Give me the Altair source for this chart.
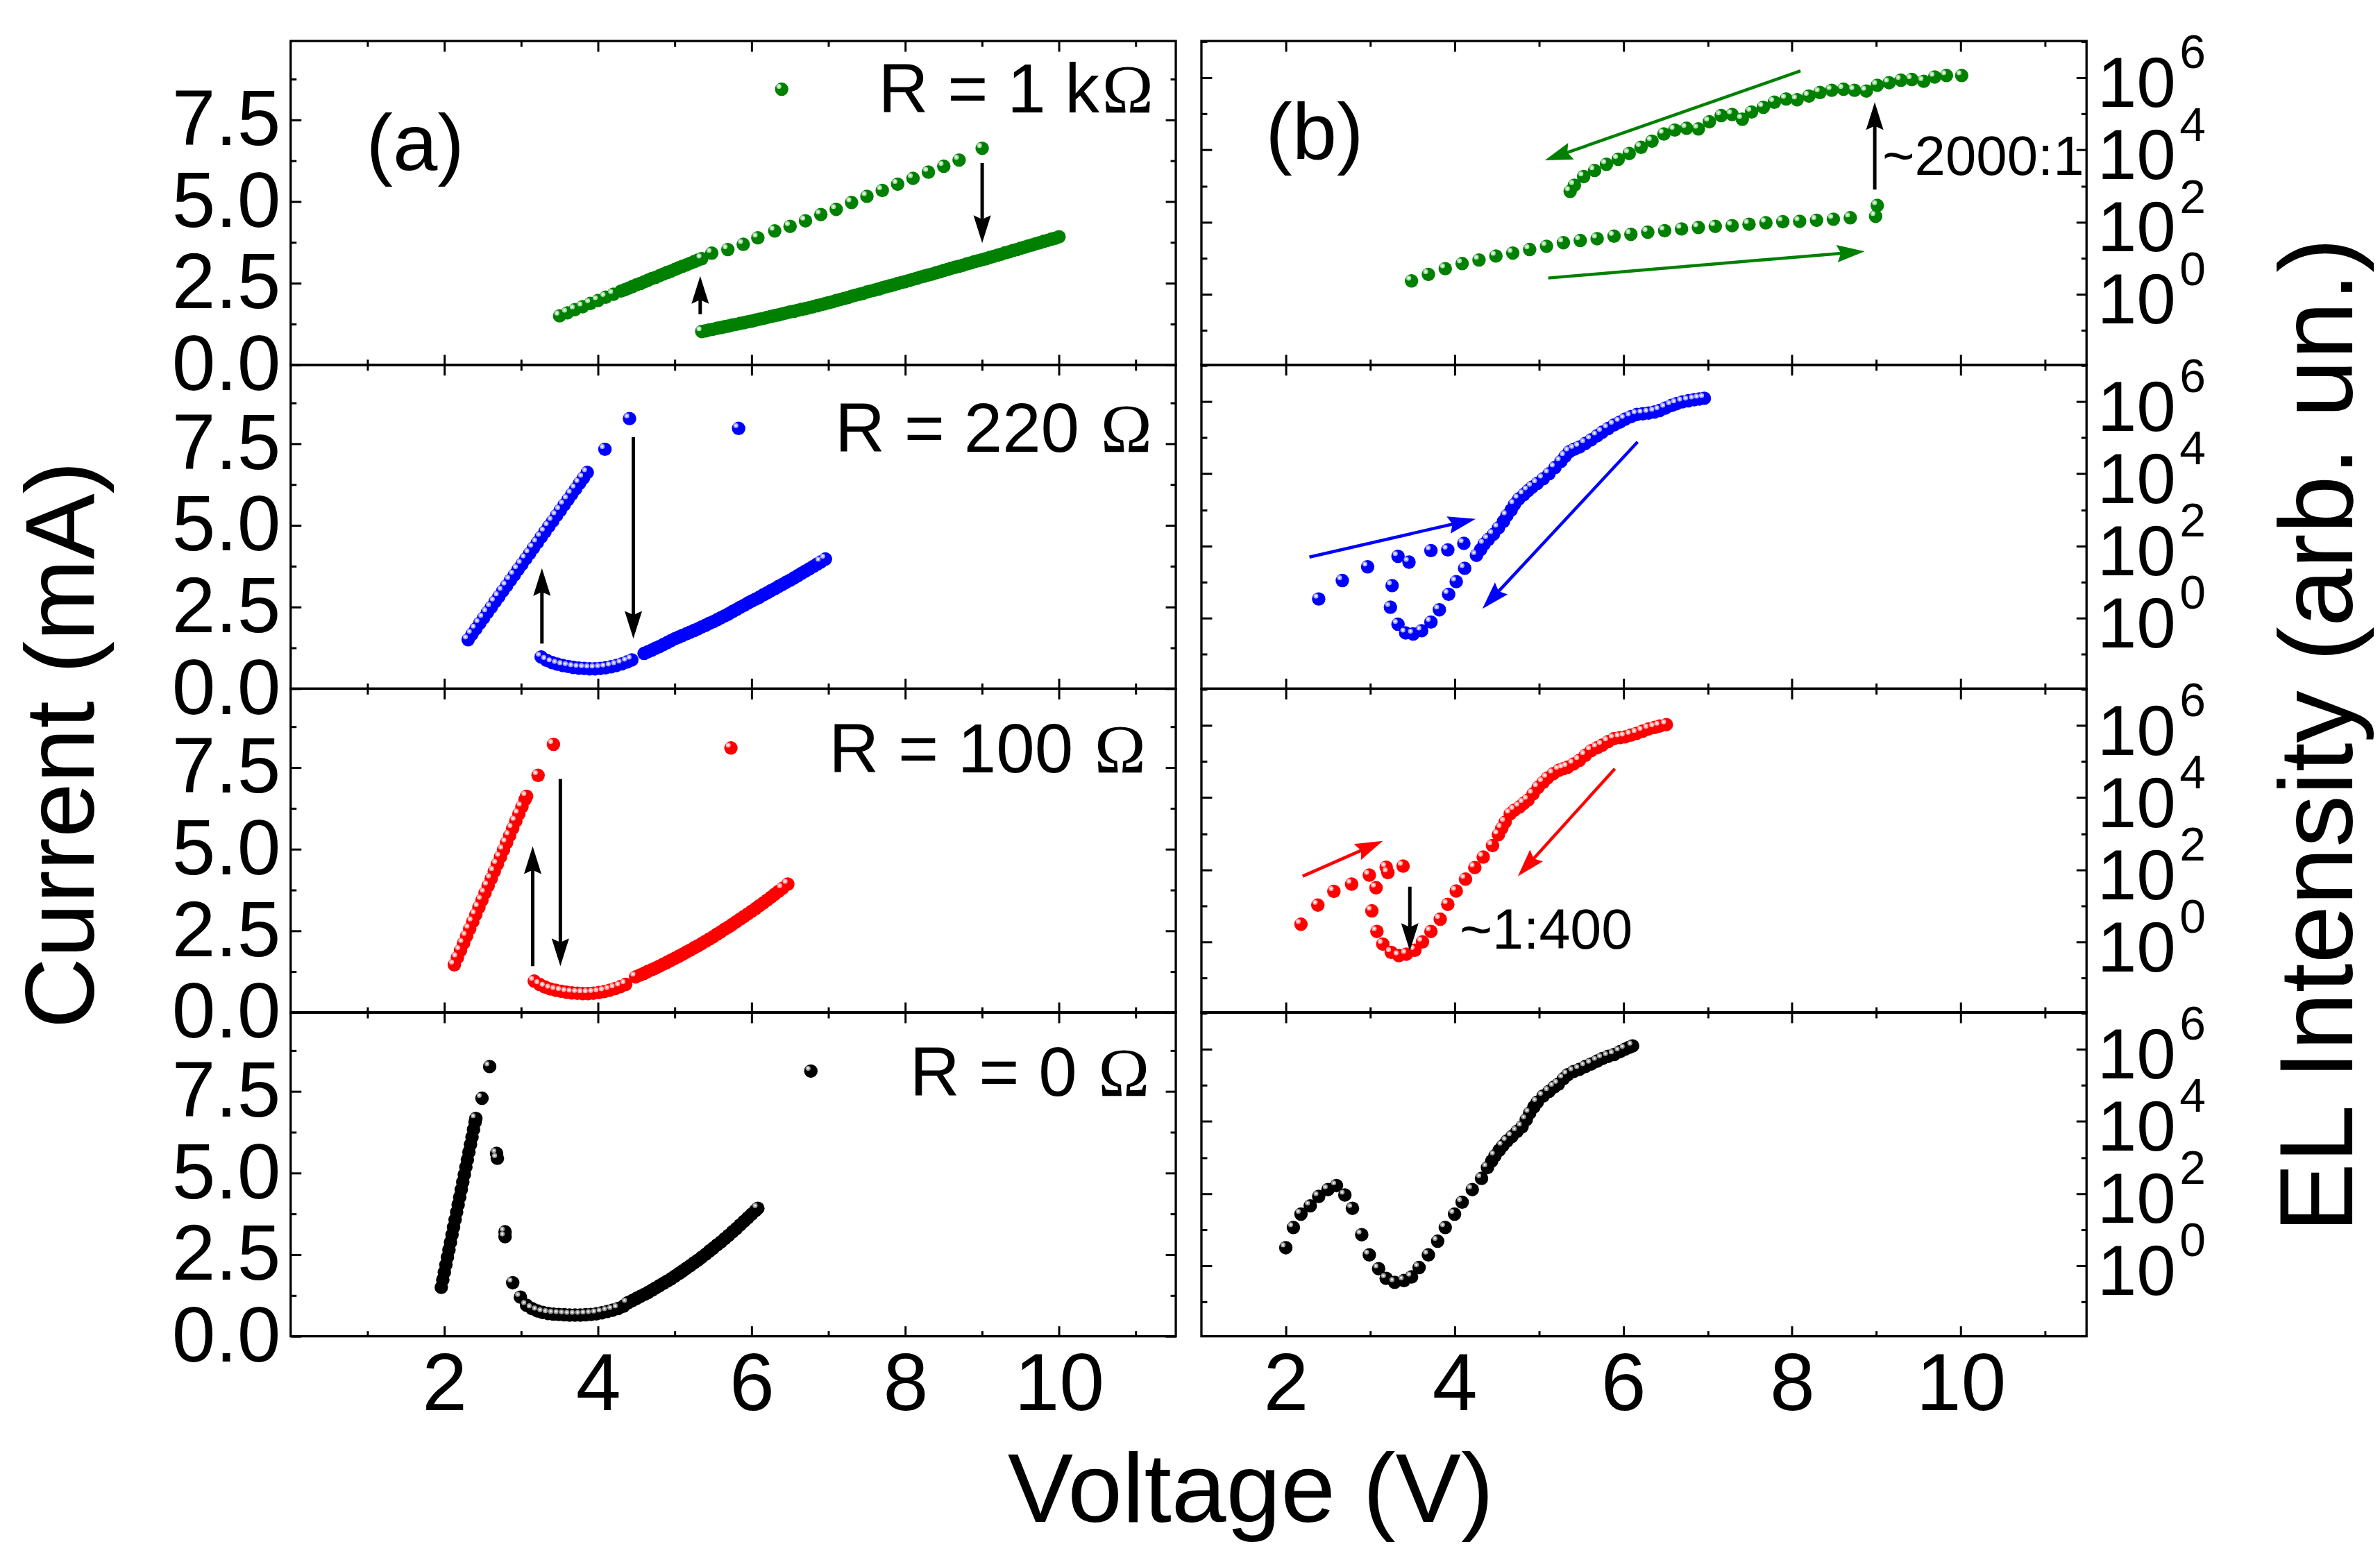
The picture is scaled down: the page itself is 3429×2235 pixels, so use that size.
import math
import altair as alt
import pandas as pd

FONT = "Liberation Sans"
SERIF = "Liberation Serif"

# ---------------- layout of one panel ----------------
W, H = 1279, 468
XL_DOM = [0.0, 11.52]      # voltage, left column
XR_DOM = [1.0, 11.49]      # voltage, right column
YL_DOM = [0.0, 9.915]      # current (mA)
YR_LOG = [-1.955, 7.016]   # log10 EL intensity

X_MAJOR = [2, 4, 6, 8, 10]
XL_MINOR = [1, 3, 5, 7, 9, 11]
XR_MINOR = [3, 5, 7, 9, 11]
YL_MAJOR = [0.0, 2.5, 5.0, 7.5]
YL_MINOR = [1.25, 3.75, 6.25, 8.75]
YR_MAJOR = [1, 1e2, 1e4, 1e6]
YR_MINOR = [1e-1, 1e1, 1e3, 1e5, 1e7]

GREEN, BLUE, RED, BLACK = "#008000", "#0000ff", "#ff0000", "#000000"
HL = {GREEN: "#a8dca8", BLUE: "#a8a8ff", RED: "#ffa8a8", BLACK: "#9c9c9c"}

# ---------------- (a) current, R = 1 kOhm ----------------
a1_up_v = [3.5, 3.6, 3.7, 3.8, 3.9, 4.0, 4.1, 4.2, 4.30, 4.35, 4.40, 4.45, 4.50, 4.55, 4.60, 4.65,
           4.70, 4.75, 4.80, 4.85, 4.90, 4.95, 5.00, 5.05, 5.10, 5.15, 5.20, 5.25, 5.30, 5.35]
a1_up_i = [1.50, 1.59, 1.69, 1.78, 1.88, 1.97, 2.07, 2.16, 2.26, 2.30, 2.35, 2.40, 2.45, 2.49, 2.54, 2.59,
           2.64, 2.68, 2.73, 2.78, 2.83, 2.87, 2.92, 2.97, 3.02, 3.06, 3.11, 3.16, 3.21, 3.25]
a1_hi_v = [5.48, 5.69, 5.89, 6.08, 6.30, 6.50, 6.70, 6.90, 7.10, 7.30, 7.50, 7.70, 7.90, 8.10, 8.30, 8.50, 8.70, 9.00]
a1_hi_i = [3.42, 3.53, 3.69, 3.89, 4.10, 4.24, 4.41, 4.60, 4.76, 4.97, 5.16, 5.34, 5.53, 5.71, 5.90, 6.08, 6.27, 6.63]
a1_ret_v = [10.00, 9.95, 9.90, 9.85, 9.80, 9.75, 9.70, 9.65, 9.60, 9.55, 9.50, 9.45, 9.40, 9.35, 9.30, 9.25,
            9.20, 9.15, 9.10, 9.05, 9.00, 8.95, 8.90, 8.85, 8.80, 8.75, 8.70, 8.65, 8.60, 8.55, 8.50, 8.45,
            8.40, 8.35, 8.30, 8.25, 8.20, 8.15, 8.10, 8.05, 8.00, 7.95, 7.90, 7.85, 7.80, 7.75, 7.70, 7.65,
            7.60, 7.55, 7.50, 7.45, 7.40, 7.35, 7.30, 7.25, 7.20, 7.15, 7.10, 7.05, 7.00, 6.95, 6.90, 6.85,
            6.80, 6.75, 6.70, 6.65, 6.60, 6.55, 6.50, 6.45, 6.40, 6.35, 6.30, 6.25, 6.20, 6.15, 6.10, 6.05,
            6.00, 5.95, 5.90, 5.85, 5.80, 5.75, 5.70, 5.65, 5.60, 5.55, 5.50, 5.45, 5.40, 5.35]
a1_ret_i = [3.92, 3.88, 3.85, 3.81, 3.78, 3.74, 3.71, 3.67, 3.64, 3.60, 3.57, 3.53, 3.50, 3.46, 3.43, 3.39,
            3.36, 3.32, 3.29, 3.25, 3.22, 3.19, 3.16, 3.12, 3.09, 3.05, 3.02, 2.99, 2.96, 2.92, 2.89, 2.85,
            2.82, 2.78, 2.75, 2.72, 2.69, 2.65, 2.62, 2.58, 2.55, 2.52, 2.49, 2.45, 2.42, 2.39, 2.36, 2.32,
            2.29, 2.26, 2.23, 2.19, 2.16, 2.13, 2.10, 2.06, 2.03, 2.00, 1.97, 1.93, 1.90, 1.87, 1.84, 1.81,
            1.78, 1.75, 1.72, 1.70, 1.67, 1.64, 1.62, 1.59, 1.56, 1.53, 1.51, 1.48, 1.45, 1.42, 1.40, 1.37,
            1.34, 1.32, 1.29, 1.27, 1.24, 1.22, 1.19, 1.17, 1.14, 1.12, 1.09, 1.07, 1.04, 1.02]

# ---------------- (a) current, R = 220 Ohm ----------------
a2_up_v = [2.31, 2.36, 2.41, 2.46, 2.51, 2.56, 2.61, 2.66, 2.71, 2.76, 2.81, 2.86, 2.91, 2.96, 3.01, 3.06,
           3.11, 3.16, 3.21, 3.26, 3.31, 3.36, 3.41, 3.46, 3.51, 3.56, 3.61, 3.66, 3.71, 3.76, 3.81, 3.86]
a2_up_i = [1.50, 1.67, 1.83, 2.00, 2.16, 2.33, 2.49, 2.66, 2.82, 2.99, 3.15, 3.32, 3.48, 3.65, 3.81, 3.98,
           4.14, 4.31, 4.47, 4.64, 4.80, 4.97, 5.13, 5.30, 5.46, 5.63, 5.79, 5.96, 6.12, 6.29, 6.45, 6.62]
a2_hi_v = [4.09, 4.41]
a2_hi_i = [7.33, 8.27]
a2_dip_v = [3.26, 3.33, 3.40, 3.47, 3.54, 3.61, 3.68, 3.75, 3.82, 3.89, 3.96, 4.03, 4.10, 4.17, 4.24, 4.31, 4.38, 4.44]
a2_dip_i = [0.97, 0.87, 0.80, 0.75, 0.71, 0.68, 0.65, 0.63, 0.62, 0.61, 0.61, 0.62, 0.64, 0.67, 0.71, 0.76, 0.82, 0.88]
a2_rise_v = [4.60, 4.65, 4.70, 4.75, 4.80, 4.85, 4.90, 4.95, 5.00, 5.05, 5.10, 5.15, 5.20, 5.25, 5.30, 5.35,
             5.40, 5.45, 5.50, 5.55, 5.60, 5.65, 5.70, 5.75, 5.80, 5.85, 5.90, 5.95, 6.00, 6.05, 6.10, 6.15,
             6.20, 6.25, 6.30, 6.35, 6.40, 6.45, 6.50, 6.55, 6.60, 6.65, 6.70, 6.75, 6.80, 6.85, 6.90, 6.96]
a2_rise_i = [1.08, 1.13, 1.18, 1.24, 1.29, 1.35, 1.41, 1.47, 1.53, 1.58, 1.63, 1.68, 1.73, 1.78, 1.83, 1.89,
             1.94, 2.00, 2.05, 2.11, 2.17, 2.23, 2.29, 2.36, 2.42, 2.49, 2.55, 2.62, 2.68, 2.74, 2.80, 2.87,
             2.93, 3.00, 3.06, 3.13, 3.19, 3.26, 3.32, 3.39, 3.46, 3.53, 3.60, 3.67, 3.74, 3.81, 3.88, 3.97]

# ---------------- (a) current, R = 100 Ohm ----------------
a3_up_v = [2.13, 2.17, 2.21, 2.25, 2.29, 2.33, 2.37, 2.41, 2.45, 2.49, 2.53, 2.57, 2.61, 2.65, 2.69, 2.73,
           2.77, 2.81, 2.85, 2.89, 2.93, 2.97, 3.01, 3.05, 3.07]
a3_up_i = [1.46, 1.68, 1.90, 2.12, 2.34, 2.56, 2.78, 3.00, 3.22, 3.44, 3.66, 3.88, 4.10, 4.32, 4.54, 4.76,
           4.98, 5.20, 5.42, 5.64, 5.86, 6.08, 6.30, 6.52, 6.62]
a3_hi_v = [3.22, 3.42]
a3_hi_i = [7.26, 8.21]
a3_dip_v = [3.17, 3.24, 3.31, 3.38, 3.45, 3.52, 3.59, 3.66, 3.73, 3.80, 3.87, 3.94, 4.01, 4.08, 4.15, 4.22, 4.29, 4.36]
a3_dip_i = [0.96, 0.86, 0.78, 0.72, 0.68, 0.65, 0.62, 0.60, 0.59, 0.58, 0.58, 0.59, 0.61, 0.64, 0.68, 0.73, 0.79, 0.86]
a3_rise_v = [4.49, 4.55, 4.60, 4.65, 4.70, 4.75, 4.80, 4.85, 4.90, 4.95, 5.00, 5.05, 5.10, 5.15, 5.20, 5.25,
             5.30, 5.35, 5.40, 5.45, 5.50, 5.55, 5.60, 5.65, 5.70, 5.75, 5.80, 5.85, 5.90, 5.95, 6.00, 6.05,
             6.10, 6.15, 6.20, 6.25, 6.30, 6.35, 6.40, 6.47]
a3_rise_i = [1.09, 1.15, 1.20, 1.26, 1.31, 1.36, 1.42, 1.48, 1.54, 1.60, 1.66, 1.72, 1.78, 1.85, 1.91, 1.98,
             2.04, 2.11, 2.18, 2.25, 2.32, 2.40, 2.47, 2.55, 2.62, 2.70, 2.78, 2.86, 2.94, 3.02, 3.10, 3.18,
             3.27, 3.35, 3.44, 3.53, 3.62, 3.71, 3.80, 3.93]

# ---------------- (a) current, R = 0 Ohm ----------------
a4_up_v = [1.96, 1.98, 2.00, 2.02, 2.04, 2.06, 2.08, 2.10, 2.12, 2.14, 2.16, 2.18, 2.20, 2.22, 2.24, 2.26,
           2.28, 2.30, 2.32, 2.34, 2.36, 2.38, 2.40, 2.41]
a4_up_i = [1.50, 1.73, 1.96, 2.19, 2.42, 2.65, 2.88, 3.11, 3.34, 3.57, 3.80, 4.03, 4.26, 4.49, 4.72, 4.95,
           5.18, 5.41, 5.64, 5.87, 6.10, 6.33, 6.56, 6.67]
a4_fall_v = [2.49, 2.59, 2.68, 2.69, 2.79, 2.79, 2.89, 2.99]
a4_fall_i = [7.29, 8.26, 5.60, 5.45, 3.20, 3.05, 1.64, 1.20]
a4_flat_v = [3.07, 3.14, 3.21, 3.28, 3.35, 3.42, 3.49, 3.56, 3.63, 3.70, 3.77, 3.84, 3.91, 3.98, 4.05, 4.12,
             4.19, 4.26, 4.33, 4.38]
a4_flat_i = [0.95, 0.85, 0.78, 0.73, 0.70, 0.68, 0.67, 0.66, 0.65, 0.65, 0.65, 0.66, 0.67, 0.69, 0.72, 0.76,
             0.80, 0.85, 0.92, 1.02]
a4_rise_v = [4.40, 4.45, 4.50, 4.55, 4.60, 4.65, 4.70, 4.75, 4.80, 4.85, 4.90, 4.95, 5.00, 5.05, 5.10, 5.15,
             5.20, 5.25, 5.30, 5.35, 5.40, 5.45, 5.50, 5.55, 5.60, 5.65, 5.70, 5.75, 5.80, 5.85, 5.90, 5.95,
             6.00, 6.05, 6.08]
a4_rise_i = [1.04, 1.10, 1.16, 1.22, 1.28, 1.34, 1.41, 1.48, 1.55, 1.62, 1.69, 1.76, 1.84, 1.92, 2.00, 2.08,
             2.16, 2.25, 2.33, 2.42, 2.51, 2.61, 2.70, 2.80, 2.89, 2.99, 3.09, 3.20, 3.30, 3.41, 3.52, 3.63,
             3.74, 3.85, 3.92]

# ---------------- (b) EL intensity, log10 values ----------------
b1_fwd_v = [3.49, 3.69, 3.89, 4.09, 4.29, 4.49, 4.69, 4.89, 5.09, 5.29, 5.49, 5.69, 5.89, 6.09, 6.29, 6.49,
            6.69, 6.89, 7.09, 7.29, 7.49, 7.69, 7.89, 8.09, 8.29, 8.49, 8.69, 8.99, 9.01]
b1_fwd_log = [0.37, 0.55, 0.71, 0.85, 0.95, 1.06, 1.14, 1.24, 1.33, 1.43, 1.49, 1.54, 1.61, 1.66, 1.72, 1.76,
              1.81, 1.85, 1.88, 1.90, 1.94, 1.98, 2.01, 2.02, 2.05, 2.08, 2.12, 2.16, 2.46]
b1_rev_v = [10.01, 9.83, 9.69, 9.56, 9.42, 9.29, 9.15, 9.01, 8.88, 8.74, 8.61, 8.47, 8.33, 8.20, 8.06, 7.93,
            7.79, 7.66, 7.52, 7.41, 7.29, 7.16, 7.02, 6.89, 6.75, 6.61, 6.48, 6.34, 6.21, 6.07, 5.94, 5.80,
            5.66, 5.53, 5.42, 5.37]
b1_rev_log = [6.06, 6.06, 6.02, 5.90, 5.95, 5.93, 5.86, 5.79, 5.63, 5.65, 5.68, 5.65, 5.59, 5.49, 5.39, 5.41,
              5.32, 5.18, 5.05, 4.85, 4.98, 4.95, 4.78, 4.58, 4.60, 4.55, 4.44, 4.24, 4.07, 3.90, 3.74, 3.60,
              3.43, 3.26, 3.02, 2.85]

b2_fwd_v = [2.39, 2.67, 2.97, 3.33, 3.46, 3.72, 3.92, 4.11]
b2_fwd_log = [0.53, 1.04, 1.42, 1.71, 1.55, 1.87, 1.89, 2.07]
b2_main_v = [3.26, 3.24, 3.33, 3.42, 3.51, 3.61, 3.72, 3.82, 3.93, 4.02, 4.12, 4.26, 4.31, 4.35, 4.40, 4.46,
             4.52, 4.58, 4.62, 4.67, 4.71, 4.76, 4.82, 4.87, 4.92, 4.98, 5.05, 5.12, 5.19, 5.26, 5.31, 5.36,
             5.42, 5.48, 5.55, 5.62, 5.69, 5.75, 5.82, 5.89, 5.96, 6.02, 6.09, 6.16, 6.23, 6.30, 6.37, 6.43,
             6.50, 6.57, 6.63, 6.70, 6.77, 6.84, 6.90, 6.96]
b2_main_log = [0.90, 0.30, -0.17, -0.41, -0.44, -0.35, -0.11, 0.23, 0.66, 1.01, 1.38, 1.74, 1.90, 2.05, 2.18, 2.32,
               2.50, 2.68, 2.84, 2.99, 3.15, 3.30, 3.42, 3.53, 3.63, 3.73, 3.86, 4.00, 4.17, 4.34, 4.48, 4.61,
               4.68, 4.74, 4.84, 4.94, 5.05, 5.15, 5.25, 5.35, 5.43, 5.51, 5.58, 5.64, 5.66, 5.68, 5.71, 5.75,
               5.82, 5.89, 5.94, 5.99, 6.02, 6.05, 6.07, 6.09]

b3_fwd_v = [2.18, 2.38, 2.57, 2.78, 2.99, 3.19, 3.21, 3.39]
b3_fwd_log = [0.49, 1.02, 1.40, 1.60, 1.85, 2.07, 1.92, 2.10]
b3_main_v = [3.07, 3.02, 3.08, 3.15, 3.25, 3.34, 3.43, 3.53, 3.62, 3.72, 3.83, 3.92, 4.02, 4.13, 4.24, 4.34,
             4.45, 4.52, 4.56, 4.60, 4.66, 4.71, 4.77, 4.82, 4.87, 4.93, 4.99, 5.05, 5.10, 5.17, 5.24, 5.29,
             5.34, 5.41, 5.48, 5.55, 5.62, 5.69, 5.75, 5.82, 5.89, 5.96, 6.02, 6.09, 6.16, 6.23, 6.30, 6.37,
             6.43, 6.51]
b3_main_log = [1.50, 0.86, 0.29, -0.06, -0.29, -0.38, -0.34, -0.23, 0.00, 0.29, 0.63, 1.04, 1.41, 1.74, 2.06, 2.35,
               2.67, 2.97, 3.15, 3.32, 3.55, 3.65, 3.74, 3.84, 3.93, 4.10, 4.28, 4.42, 4.54, 4.66, 4.76, 4.80,
               4.84, 4.93, 5.03, 5.17, 5.30, 5.38, 5.45, 5.55, 5.63, 5.66, 5.68, 5.73, 5.78, 5.84, 5.90, 5.94,
               5.98, 6.02]

b4_v = [2.00, 2.09, 2.18, 2.29, 2.39, 2.50, 2.60, 2.70, 2.79, 2.90, 2.99, 3.10, 3.19, 3.29, 3.40, 3.49,
        3.58, 3.69, 3.80, 3.89, 4.00, 4.09, 4.21, 4.32, 4.39, 4.44, 4.48, 4.53, 4.57, 4.62, 4.68, 4.74,
        4.80, 4.85, 4.89, 4.94, 4.98, 5.05, 5.12, 5.18, 5.23, 5.29, 5.34, 5.41, 5.48, 5.55, 5.62, 5.69,
        5.75, 5.82, 5.89, 5.96, 6.02, 6.07, 6.11]
b4_log = [0.50, 1.06, 1.43, 1.66, 1.92, 2.11, 2.22, 1.96, 1.59, 0.86, 0.30, -0.08, -0.35, -0.46, -0.41, -0.31,
          -0.05, 0.30, 0.68, 1.06, 1.43, 1.76, 2.11, 2.42, 2.72, 2.90, 3.05, 3.20, 3.32, 3.45, 3.58, 3.72,
          3.85, 4.05, 4.23, 4.40, 4.53, 4.70, 4.83, 4.95, 5.03, 5.18, 5.29, 5.38, 5.44, 5.52, 5.59, 5.67,
          5.74, 5.80, 5.85, 5.93, 6.00, 6.05, 6.09]

# legend entries of the left panels: dot position, text right edge / baseline
LEGENDS = [
    dict(dot=(6.39, 8.44), x=11.23, y=7.72, prefix="R = 1 k", dx=-78),
    dict(dot=(5.83, 7.97), x=11.21, y=7.25, prefix="R = 220", dx=-105),
    dict(dot=(5.73, 8.10), x=11.13, y=7.35, prefix="R = 100", dx=-105),
    dict(dot=(6.77, 8.12), x=11.18, y=7.37, prefix="R = 0", dx=-105),
]

# arrows: (x_tail, y_tail, x_tip, y_tip, colour, width); y in mA (left) or log10 (right)
ARROWS = {
    (0, 0): [(5.33, 1.55, 5.33, 2.72, BLACK, 5), (9.00, 6.18, 9.00, 3.73, BLACK, 5)],
    (1, 0): [(3.27, 1.38, 3.27, 3.69, BLACK, 5), (4.46, 7.70, 4.46, 1.53, BLACK, 5)],
    (2, 0): [(3.15, 1.42, 3.15, 5.09, BLACK, 5), (3.51, 7.15, 3.51, 1.42, BLACK, 5)],
    (0, 1): [(5.11, 0.45, 8.86, 1.19, GREEN, 4.5), (8.10, 6.19, 5.07, 3.71, GREEN, 4.5),
             (8.98, 2.90, 8.98, 5.32, BLACK, 5)],
    (1, 1): [(2.28, 1.69, 4.25, 2.75, BLUE, 4.5), (6.17, 4.88, 4.33, 0.26, BLUE, 4.5)],
    (2, 1): [(2.20, 1.82, 3.15, 2.80, RED, 4.5), (5.90, 4.80, 4.75, 1.82, RED, 4.5),
             (3.47, 1.53, 3.47, -0.25, BLACK, 5)],
}

# free texts: (x, y, text, size, align)
TEXTS = {
    (0, 0): [(1.62, 5.97, "(a)", 116, "center")],
    (0, 1): [(2.34, 3.745, "(b)", 116, "center"), (9.07, 3.30, "~2000:1", 80, "left")],
    (2, 1): [(4.06, -0.19, "~1:400", 81, "left")],
}

HEAD = "M0,0L0.55,1.75L0,1.5L-0.55,1.75Z"


def x_scale(col):
    return alt.Scale(domain=XL_DOM if col == 0 else XR_DOM, nice=False, zero=False)


def y_scale(col):
    if col == 0:
        return alt.Scale(domain=YL_DOM, nice=False, zero=False)
    return alt.Scale(type="log", domain=[10 ** YR_LOG[0], 10 ** YR_LOG[1]], nice=False)


def yval(col, v):
    return v if col == 0 else 10 ** v


def to_px(col, x, y):
    xd = XL_DOM if col == 0 else XR_DOM
    yd = YL_DOM if col == 0 else YR_LOG
    return ((x - xd[0]) * W / (xd[1] - xd[0]), -(y - yd[0]) * H / (yd[1] - yd[0]))


def from_px(col, sx, sy):
    xd = XL_DOM if col == 0 else XR_DOM
    yd = YL_DOM if col == 0 else YR_LOG
    return (xd[0] + sx * (xd[1] - xd[0]) / W, yd[0] - sy * (yd[1] - yd[0]) / H)


def enc(col, xaxis=None, yaxis=None):
    return dict(x=alt.X("x:Q", scale=x_scale(col), axis=xaxis),
                y=alt.Y("y:Q", scale=y_scale(col), axis=yaxis))


def tick_axis(orient, values, size):
    return alt.Axis(orient=orient, values=values, ticks=True, tickSize=size, offset=-size,
                    tickWidth=3, tickColor="black", labels=False, domain=False, grid=False, title=None)


def label_axis(orient, values, size, pad, loff, fmt=None, expr=None, title=None, **tkw):
    kw = dict(orient=orient, values=values, ticks=False, tickSize=0, domain=False, grid=False,
              labels=True, labelFont=FONT, labelFontSize=size, labelPadding=pad, labelOffset=loff,
              labelColor="black", labelOverlap=False, labelFlush=False)
    if fmt:
        kw["format"] = fmt
    if expr:
        kw["labelExpr"] = expr
    if title:
        kw.update(title=title, titleFont=FONT, titleFontWeight="normal", titleColor="black",
                  titleAlign="center", titleBaseline="alphabetic", **tkw)
    else:
        kw["title"] = None
    return alt.Axis(**kw)


def make_panel(row, col, series, color):
    x0 = (XL_DOM if col == 0 else XR_DOM)[0]
    y0 = yval(col, (YL_DOM if col == 0 else YR_LOG)[0])
    base = alt.Chart(pd.DataFrame({"x": [x0], "y": [y0]})).mark_point(opacity=0)
    layers = []
    xminor = XL_MINOR if col == 0 else XR_MINOR
    ymaj = YL_MAJOR if col == 0 else YR_MAJOR
    yminor = YL_MINOR if col == 0 else YR_MINOR
    for xo, yo in (("bottom", "left"), ("top", "right")):
        for xv, yv, s in ((X_MAJOR, ymaj, 15), (xminor, yminor, 8)):
            layers.append(base.encode(**enc(col, tick_axis(xo, xv, s), tick_axis(yo, yv, s))))

    # tick labels and axis titles
    xlab = None
    if row == 3:
        if col == 0:
            xlab = label_axis("bottom", X_MAJOR, 117, 14, 0, fmt="d", title="Voltage (V)",
                              titleFontSize=142, titleX=1386.7, titleY=267.6)
        else:
            xlab = label_axis("bottom", X_MAJOR, 117, 14, 0, fmt="d")
    if col == 0:
        if row == 1:
            ylab = label_axis("left", YL_MAJOR, 113, 15, 2, fmt=".1f", title="Current (mA)",
                              titleFontSize=142, titleAngle=270, titleX=-285.3, titleY=548.7)
        else:
            ylab = label_axis("left", YL_MAJOR, 113, 15, 2, fmt=".1f")
        layers.append(base.encode(**enc(col, xlab, ylab)))
    else:
        ylab = label_axis("right", YR_MAJOR, 102, 15, 11, expr="'10'")
        layers.append(base.encode(**enc(col, xlab, ylab)))
        sup_expr = "format(round(log(datum.value)/LN10), 'd')"
        if row == 1:
            ysup = label_axis("right", YR_MAJOR, 68, 134, -34, expr=sup_expr,
                              title="EL Intensity (arb. un.)", titleFontSize=151, titleAngle=270,
                              titleX=383.5, titleY=534.7)
        else:
            ysup = label_axis("right", YR_MAJOR, 68, 134, -34, expr=sup_expr)
        layers.append(base.encode(**enc(col, None, ysup)))

    # data points (+ legend dot) with a small highlight where it is not covered by a later point
    series = list(series)
    if col == 0:
        lg = LEGENDS[row]
        series.append(([lg["dot"][0]], [lg["dot"][1]]))
    balls, hls = [], []
    for xs, ys in series:
        pts = [to_px(col, a, b) for a, b in zip(xs, ys)]
        for k, (a, b) in enumerate(zip(xs, ys)):
            balls.append({"x": a, "y": yval(col, b)})
            hx, hy = pts[k][0] - 4, pts[k][1] - 4
            if not any(math.hypot(p[0] - hx, p[1] - hy) < 10 for p in pts[k + 1:]):
                hls.append({"x": a, "y": yval(col, b)})
    layers.append(alt.Chart(pd.DataFrame(balls)).mark_circle(size=380, opacity=1, color=color)
                  .encode(**enc(col)))
    dh = pd.DataFrame(hls)
    layers.append(alt.Chart(dh).mark_circle(size=52, opacity=1, color=HL[color], xOffset=-4, yOffset=-4)
                  .encode(**enc(col)))
    layers.append(alt.Chart(dh).mark_circle(size=9, opacity=0.9, color="white", xOffset=-4, yOffset=-4)
                  .encode(**enc(col)))

    # arrows
    arrows = ARROWS.get((row, col), [])
    if arrows:
        shafts, heads = [], []
        for (xa, ya, xb, yb, c, w) in arrows:
            pa, pb = to_px(col, xa, ya), to_px(col, xb, yb)
            dx, dy = pb[0] - pa[0], pb[1] - pa[1]
            L = math.hypot(dx, dy)
            ux, uy = dx / L, dy / L
            ang = math.degrees(math.atan2(ux, -uy)) % 360
            ex, ey = from_px(col, pb[0] - 24 * ux, pb[1] - 24 * uy)
            shafts.append({"x": xa, "y": yval(col, ya), "x2": ex, "y2": yval(col, ey), "c": c, "w": w})
            heads.append({"x": xb, "y": yval(col, yb), "a": ang, "c": c})
        layers.append(alt.Chart(pd.DataFrame(shafts)).mark_rule(strokeCap="butt").encode(
            x=alt.X("x:Q", scale=x_scale(col), axis=None),
            y=alt.Y("y:Q", scale=y_scale(col), axis=None),
            x2="x2:Q", y2="y2:Q",
            color=alt.Color("c:N", scale=None),
            strokeWidth=alt.StrokeWidth("w:Q", scale=None)))
        layers.append(alt.Chart(pd.DataFrame(heads)).mark_point(
            shape=HEAD, filled=True, size=2100, opacity=1, strokeWidth=0).encode(
            x=alt.X("x:Q", scale=x_scale(col), axis=None),
            y=alt.Y("y:Q", scale=y_scale(col), axis=None),
            angle=alt.Angle("a:Q", scale=None),
            color=alt.Color("c:N", scale=None)))

    # texts
    for (tx, ty, t, size, align) in TEXTS.get((row, col), []):
        layers.append(alt.Chart(pd.DataFrame({"x": [tx], "y": [yval(col, ty)], "t": [t]}))
                      .mark_text(font=FONT, fontSize=size, align=align, baseline="alphabetic", color="black")
                      .encode(text="t:N", **enc(col)))
    if col == 0:
        lg = LEGENDS[row]
        df = pd.DataFrame({"x": [lg["x"]], "y": [lg["y"]], "t": [lg["prefix"]], "o": ["\u03a9"]})
        layers.append(alt.Chart(df).mark_text(font=FONT, fontSize=100, align="right", baseline="alphabetic",
                                              dx=lg["dx"], color="black").encode(text="t:N", **enc(col)))
        layers.append(alt.Chart(df).mark_text(font=SERIF, fontSize=100, align="right", baseline="alphabetic",
                                              color="black").encode(text="o:N", **enc(col)))

    return alt.layer(*layers).resolve_axis(x="independent", y="independent").properties(width=W, height=H)


panels = [
    make_panel(0, 0, [(a1_up_v, a1_up_i), (a1_hi_v, a1_hi_i), (a1_ret_v, a1_ret_i)], GREEN),
    make_panel(0, 1, [(b1_fwd_v, b1_fwd_log), (b1_rev_v, b1_rev_log)], GREEN),
    make_panel(1, 0, [(a2_up_v, a2_up_i), (a2_hi_v, a2_hi_i), (a2_dip_v, a2_dip_i), (a2_rise_v, a2_rise_i)], BLUE),
    make_panel(1, 1, [(b2_fwd_v, b2_fwd_log), (b2_main_v, b2_main_log)], BLUE),
    make_panel(2, 0, [(a3_up_v, a3_up_i), (a3_hi_v, a3_hi_i), (a3_dip_v, a3_dip_i), (a3_rise_v, a3_rise_i)], RED),
    make_panel(2, 1, [(b3_fwd_v, b3_fwd_log), (b3_main_v, b3_main_log)], RED),
    make_panel(3, 0, [(a4_up_v, a4_up_i), (a4_fall_v, a4_fall_i), (a4_flat_v, a4_flat_i),
                      (a4_rise_v, a4_rise_i)], BLACK),
    make_panel(3, 1, [(b4_v, b4_log)], BLACK),
]

chart = (
    alt.concat(*panels, columns=2, spacing={"row": 0, "column": 37}, bounds="flush")
    .properties(padding={"left": 11, "top": 31, "right": 0, "bottom": 0})
    .configure(font=FONT)
    .configure_view(stroke="black", strokeWidth=3.3)
)

chart.save("out.html", embed_options={"renderer": "svg", "actions": False})
